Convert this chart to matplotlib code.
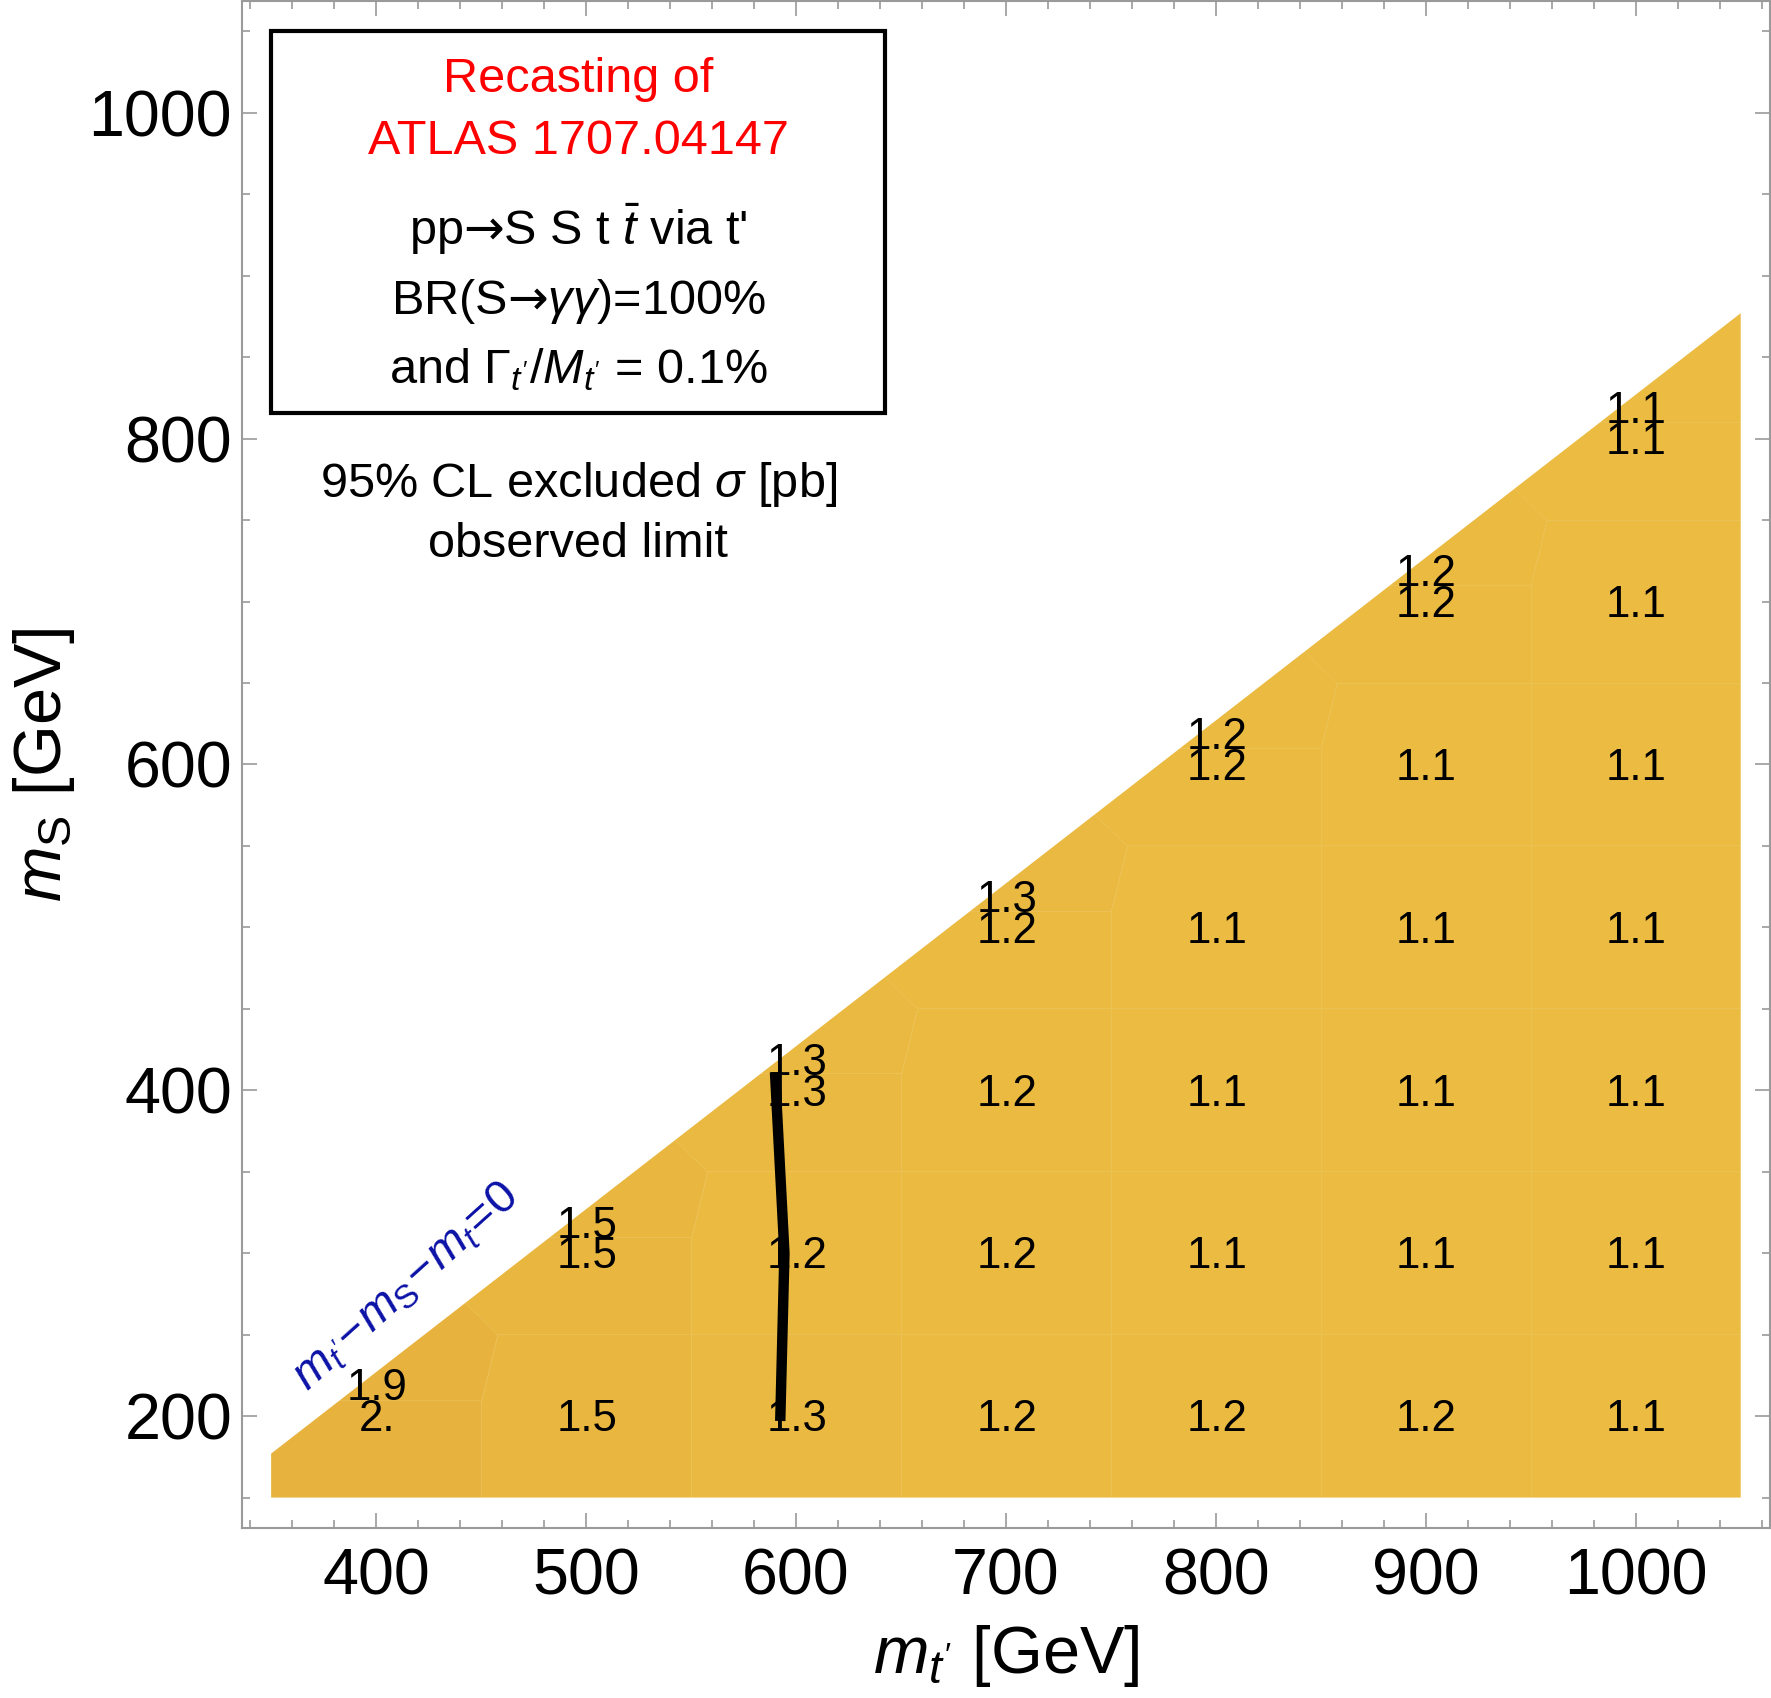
import numpy as np
import matplotlib
matplotlib.use("Agg")
import matplotlib.pyplot as plt
from matplotlib.patches import Polygon, Rectangle

# ---------------- data ----------------
# sampled grid points (m_t' [GeV], m_S [GeV]) and observed excluded sigma [pb]
row200_mt = [400, 500, 600, 700, 800, 900, 1000]
row200_sig = [2.0, 1.5, 1.3, 1.2, 1.2, 1.2, 1.1]
row300_mt = [500, 600, 700, 800, 900, 1000]
row300_sig = [1.5, 1.2, 1.2, 1.1, 1.1, 1.1]
row400_mt = [600, 700, 800, 900, 1000]
row400_sig = [1.3, 1.2, 1.1, 1.1, 1.1]
row500_mt = [700, 800, 900, 1000]
row500_sig = [1.2, 1.1, 1.1, 1.1]
row600_mt = [800, 900, 1000]
row600_sig = [1.2, 1.1, 1.1]
row700_mt = [900, 1000]
row700_sig = [1.2, 1.1]
row800_mt = [1000]
row800_sig = [1.1]
# points just below the kinematic edge
edge_mt = [400, 500, 600, 700, 800, 900, 1000]
edge_ms = [219, 319, 419, 519, 619, 719, 819]
edge_sig = [1.9, 1.5, 1.3, 1.3, 1.2, 1.2, 1.1]

# black contour line
line_mt = [590, 594.5, 592.5]
line_ms = [411, 300, 197]

m_top = 173          # top mass [GeV]
mt_range = [350, 1050]
ms_min = 150

rows = [(200, row200_mt, row200_sig), (300, row300_mt, row300_sig),
        (400, row400_mt, row400_sig), (500, row500_mt, row500_sig),
        (600, row600_mt, row600_sig), (700, row700_mt, row700_sig),
        (800, row800_mt, row800_sig)]
grid_mt, grid_ms, grid_sig = [], [], []
for ms, mts, sigs in rows:
    for a, s in zip(mts, sigs):
        grid_mt.append(a); grid_ms.append(ms); grid_sig.append(s)
all_mt = np.array(grid_mt + edge_mt, float)
all_ms = np.array(grid_ms + edge_ms, float)
all_sig = np.array(grid_sig + edge_sig, float)

# ---------------- style ----------------
plt.rcParams["font.family"] = ["Liberation Sans", "DejaVu Sans"]
plt.rcParams["mathtext.fontset"] = "custom"
plt.rcParams["mathtext.rm"] = "Liberation Sans"
plt.rcParams["mathtext.it"] = "Liberation Sans:italic"
plt.rcParams["mathtext.bf"] = "Liberation Sans:bold"
plt.rcParams["mathtext.sf"] = "DejaVu Sans"

fig = plt.figure(figsize=(17.71, 16.98), dpi=100)
ax = fig.add_axes([0.1365, 0.1001, 0.8630, 0.8993])
ax.set_xlim(336, 1064)
ax.set_ylim(131.3, 1068.6)

# ---------------- nearest-neighbour (Voronoi) density cells ----------------
x0, x1 = mt_range
y0, y1 = ms_min, mt_range[1] - m_top + 5
nx, ny = 1470, 1200
xs = np.linspace(x0, x1, nx)
ys = np.linspace(y0, y1, ny)
X, Y = np.meshgrid(xs, ys)
best = np.full(X.shape, np.inf)
idx = np.zeros(X.shape, int)
for k, (px, py) in enumerate(zip(all_mt, all_ms)):
    d = (X - px) ** 2 + (Y - py) ** 2
    m = d < best
    best[m] = d[m]
    idx[m] = k
vals = all_sig[idx]
c_lo = np.array([235, 187, 66]) / 255.0
c_hi = np.array([231, 179, 62]) / 255.0
t = np.clip((vals - 1.1) / 0.9, 0, 1)[..., None]
rgb = c_lo * (1 - t) + c_hi * t
edge = np.zeros(idx.shape, bool)
edge[:, 1:] |= idx[:, 1:] != idx[:, :-1]
edge[1:, :] |= idx[1:, :] != idx[:-1, :]
rgb[edge] = rgb[edge] + 0.10 * (1 - rgb[edge])
im = ax.imshow(rgb, origin="lower", extent=[x0, x1, y0, y1],
               interpolation="nearest", aspect="auto", zorder=1)
poly = Polygon([(x0, ms_min), (x1, ms_min), (x1, x1 - m_top), (x0, x0 - m_top)],
               closed=True, transform=ax.transData, facecolor="none", edgecolor="none")
ax.add_patch(poly)
im.set_clip_path(poly)

# ---------------- value labels ----------------
def fmt(v):
    return "%d." % v if abs(v - round(v)) < 1e-9 else "%.1f" % v

for a, b, s in zip(all_mt, all_ms, all_sig):
    ax.annotate(fmt(s), (a, b), xytext=(0.5, -11), textcoords="offset points",
                ha="center", va="baseline", fontsize=31.5, color="black", zorder=3)

# contour line
ax.plot(line_mt, line_ms, color="black", lw=7.5, solid_capstyle="butt", zorder=4)

# kinematic edge label
ax.text(0.1075, 0.158, r"$m_{t'}\!-\!m_\mathrm{S}\!-\!m_t\!=\!0$", transform=ax.transAxes,
        rotation=42, rotation_mode="anchor", ha="center", va="center",
        fontsize=34, color="#0b12a6", zorder=5)

# ---------------- info box ----------------
ax.add_patch(Rectangle((0.0193, 0.7302), 0.4016, 0.2504, transform=ax.transAxes,
                       fill=True, facecolor="white", edgecolor="black", lw=3, zorder=6))
cx = 0.2201
box_fs = 35
ax.text(cx, 0.9405, "Recasting of", transform=ax.transAxes, ha="center", va="baseline",
        fontsize=box_fs, color="#ff0000", zorder=7)
ax.text(cx, 0.8999, "ATLAS 1707.04147", transform=ax.transAxes, ha="center", va="baseline",
        fontsize=box_fs, color="#ff0000", zorder=7)
ax.text(cx, 0.8402, r"pp$\mathsf{→}$S S t $\bar{t}$ via t'", transform=ax.transAxes, ha="center",
        va="baseline", fontsize=box_fs, color="black", zorder=7)
ax.text(cx, 0.7950, r"BR(S$\mathsf{→}\gamma\gamma$)=100%", transform=ax.transAxes, ha="center",
        va="baseline", fontsize=box_fs, color="black", zorder=7)
ax.text(cx, 0.7498, r"and $\Gamma_{t'}/M_{t'}$ = 0.1%", transform=ax.transAxes, ha="center",
        va="baseline", fontsize=box_fs, color="black", zorder=7)
ax.text(cx, 0.6749, r"95% CL excluded $\sigma$ [pb]", transform=ax.transAxes, ha="center",
        va="baseline", fontsize=box_fs, color="black", zorder=7)
ax.text(cx, 0.6359, "observed limit", transform=ax.transAxes, ha="center",
        va="baseline", fontsize=box_fs, color="black", zorder=7)

# ---------------- axes ----------------
ax.set_xticks([400, 500, 600, 700, 800, 900, 1000])
ax.set_xticks(np.arange(340, 1064, 20), minor=True)
ax.set_yticks([200, 400, 600, 800, 1000])
ax.set_yticks(np.arange(150, 1068, 50), minor=True)
ax.tick_params(which="both", direction="in", top=True, right=True, color="#9a9a9a",
               width=1.2)
ax.tick_params(which="major", length=11, labelsize=46.5)
ax.tick_params(which="minor", length=6)
ax.tick_params(axis="x", which="major", pad=14)
ax.tick_params(axis="y", which="major", pad=7)
for sp in ax.spines.values():
    sp.set_color("#9a9a9a")
    sp.set_linewidth(1.5)

ax.set_xlabel(r"$m_{t'}$ [GeV]", fontsize=48)
ax.set_ylabel(r"$m_\mathrm{S}$ [GeV]", fontsize=48)
ax.xaxis.set_label_coords(0.5, -0.062)
ax.yaxis.set_label_coords(-0.108, 0.5)

fig.savefig("out.png", dpi=100, facecolor="white")
